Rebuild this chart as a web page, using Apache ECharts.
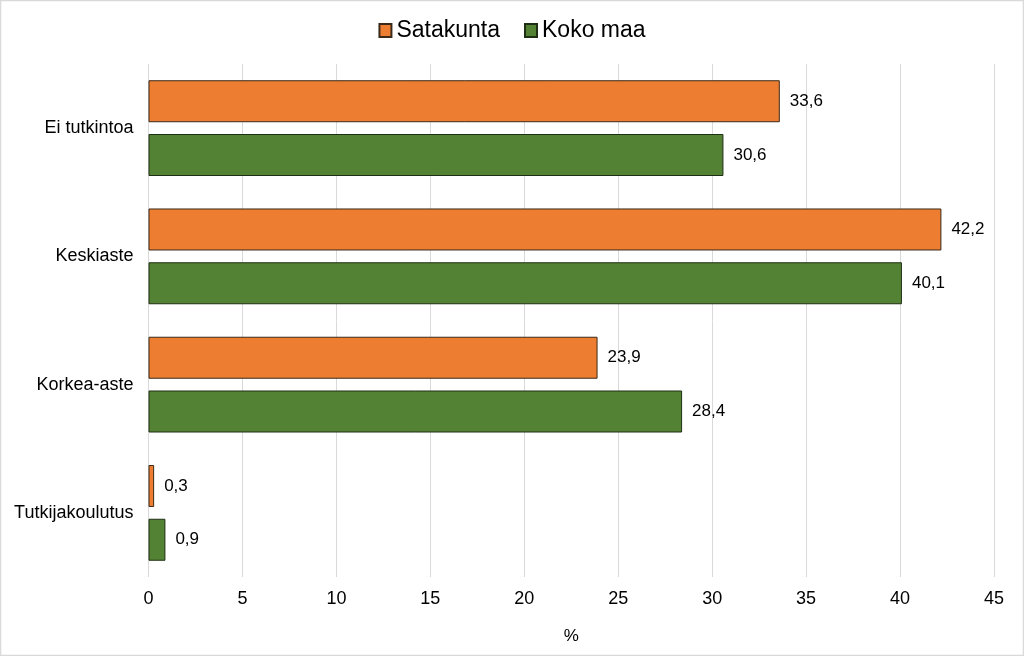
<!DOCTYPE html>
<html><head><meta charset="utf-8">
<script src="https://cdn.jsdelivr.net/npm/echarts@6/dist/echarts.min.js"></script>
<style>html,body{margin:0;padding:0;background:#fff}#c{width:1024px;height:656px}</style>
</head><body><div id="c"></div>
<script>
const categories = ["Ei tutkintoa", "Keskiaste", "Korkea-aste", "Tutkijakoulutus"];
const satakunta = [33.6, 42.2, 23.9, 0.3];
const kokoMaa = [30.6, 40.1, 28.4, 0.9];
const seriesNames = ["Satakunta", "Koko maa"];
const xTicks = [0, 5, 10, 15, 20, 25, 30, 35, 40, 45];

const FONT = '"Liberation Sans", Arial, sans-serif';
const chart = echarts.init(document.getElementById('c'), null, {renderer: 'canvas'});
const fmt = p => String(p.value.toFixed(1)).replace('.', ',');
const labelStyle = {show: true, position: 'right', distance: 10, formatter: fmt, color: '#000', fontSize: 17, fontFamily: FONT};
chart.setOption({
  animation: false,
  backgroundColor: '#fff',
  graphic: [{type: 'rect', shape: {x: 0.5, y: 0.5, width: 1023, height: 655}, style: {fill: 'none', stroke: '#d9d9d9', lineWidth: 1.5}, silent: true}],
  legend: {
    data: seriesNames.map(n => ({name: n, icon: 'rect'})), top: 14, left: 'center',
    itemWidth: 12, itemHeight: 13, itemGap: 24,
    textStyle: {fontSize: 23, fontFamily: FONT, color: '#000', padding: [0, 0, 0, 0]}
  },
  grid: {left: 148.5, right: 30, top: 64, bottom: 79, containLabel: false},
  xAxis: {
    type: 'value', min: 0, max: 45, interval: 5,
    axisLine: {show: false}, axisTick: {show: false},
    splitLine: {show: true, lineStyle: {color: '#d9d9d9', width: 1}},
    axisLabel: {fontSize: 18, fontFamily: FONT, color: '#000', margin: 13, formatter: v => xTicks.includes(v) ? String(v) : ''},
    name: '%', nameLocation: 'middle', nameGap: 51,
    nameTextStyle: {fontSize: 17, fontFamily: FONT, color: '#000'}
  },
  yAxis: {
    type: 'category', data: categories, inverse: true,
    axisLine: {show: false}, axisTick: {show: false},
    axisLabel: {fontSize: 18, fontFamily: FONT, color: '#000', margin: 15}
  },
  series: [
    {name: seriesNames[0], type: 'bar', data: satakunta, barWidth: 42, barGap: '28%',
     itemStyle: {color: '#ED7D31', borderColor: '#3b2a1a', borderWidth: 1}, label: labelStyle},
    {name: seriesNames[1], type: 'bar', data: kokoMaa, barWidth: 42, barGap: '28%',
     itemStyle: {color: '#548235', borderColor: '#1f2f14', borderWidth: 1}, label: labelStyle}
  ]
});
</script></body></html>
